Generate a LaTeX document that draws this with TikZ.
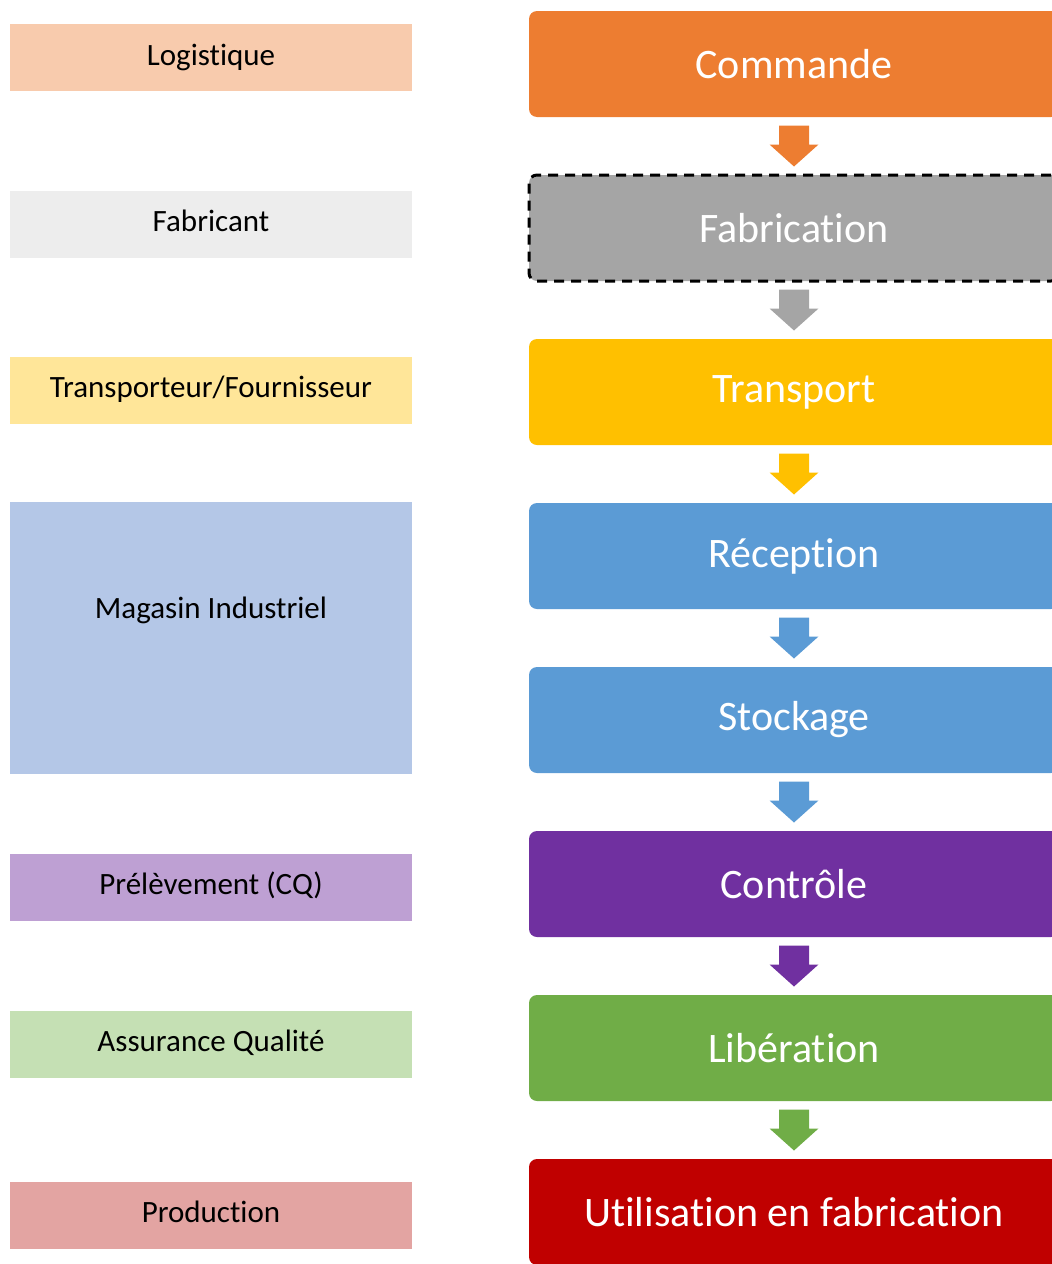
\documentclass[tikz,border=0pt]{standalone}
\usepackage{fontspec}
\setmainfont{Carlito}[Ligatures={NoCommon}]
\usepackage{xcolor}
\usetikzlibrary{calc,
	positioning}

\definecolor{cmdorange}{HTML}{ED7D31}
\definecolor{fabgray}{HTML}{A5A5A5}
\definecolor{trpyellow}{HTML}{FFC000}
\definecolor{recblue}{HTML}{5B9BD5}
\definecolor{ctrlpurple}{HTML}{7030A0}
\definecolor{libgreen}{HTML}{70AD47}
\definecolor{utilred}{HTML}{C00000}
\definecolor{logipeach}{HTML}{F8CBAD}
\definecolor{fabrlight}{HTML}{EDEDED}
\definecolor{trsplight}{HTML}{FFE699}
\definecolor{maglight}{HTML}{B4C7E7}
\definecolor{prellight}{HTML}{BEA0D3}
\definecolor{aqlight}{HTML}{C5E0B4}
\definecolor{prodlight}{HTML}{E3A4A2}

% block arrow between two stacked steps
\newcommand{\flowarrow}[3]{%
	\fill[#3] ($(#1.south)!0.5!(#2.north)+(-15,-20.5)$) -- ++(30,0) -- ++(0,19) -- ++(9.5,0)
		-- ++(-24.5,22) -- ++(-24.5,-22) -- ++(9.5,0) -- cycle;}

\begin{document}
\begin{tikzpicture}[x=1pt, y=-1pt,
	stepbox/.style={rectangle, rounded corners=8pt, minimum width=530pt, minimum height=106pt,
		inner sep=0pt, outer sep=0pt, text=white, font=\fontsize{42}{50}\selectfont},
	rolebox/.style={rectangle, minimum width=402pt, minimum height=67pt, inner sep=0pt,
		outer sep=0pt, text=black, text height=21pt, text depth=6pt, font=\fontsize{31}{37}\selectfont}]
	\useasboundingbox (0,0) rectangle (1052,1264);
	\clip (0,0) rectangle (1052,1264);

	% roles
	\node (logi) [rolebox, fill=logipeach] at (211,57.5) {Logistique};
	\node (fabr) [rolebox, fill=fabrlight] at (211,224) {Fabricant};
	\node (trsp) [rolebox, fill=trsplight] at (211,390) {Transporteur/Fournisseur};
	\node (mag) [rolebox, fill=maglight, minimum height=272pt] at (211,638) {};
	\node (magtxt) [rolebox, minimum height=0pt] at ($(mag.center)+(0,-27)$) {Magasin Industriel};
	\node (prel) [rolebox, fill=prellight] at (211,887) {Prélèvement (CQ)};
	\node (aq) [rolebox, fill=aqlight] at (211,1044) {Assurance Qualité};
	\node (prod) [rolebox, fill=prodlight] at (211,1215) {Production};

	% steps
	\node (cmd) [stepbox, fill=cmdorange] at (794,64) {Commande};
	\node (fab) [stepbox, fill=fabgray, draw=black, line width=3pt, dash pattern=on 10pt off 7pt,
		below=58pt of cmd] {Fabrication};
	\node (trp) [stepbox, fill=trpyellow, below=58pt of fab] {Transport};
	\node (rec) [stepbox, fill=recblue, below=58pt of trp] {Réception};
	\node (sto) [stepbox, fill=recblue, below=58pt of rec] {Stockage};
	\node (ctrl) [stepbox, fill=ctrlpurple, below=58pt of sto] {Contrôle};
	\node (lib) [stepbox, fill=libgreen, below=58pt of ctrl] {Libération};
	\node (util) [stepbox, fill=utilred, below=58pt of lib] {Utilisation en fabrication};

	\flowarrow{cmd}{fab}{cmdorange}
	\flowarrow{fab}{trp}{fabgray}
	\flowarrow{trp}{rec}{trpyellow}
	\flowarrow{rec}{sto}{recblue}
	\flowarrow{sto}{ctrl}{recblue}
	\flowarrow{ctrl}{lib}{ctrlpurple}
	\flowarrow{lib}{util}{libgreen}
\end{tikzpicture}
\end{document}
